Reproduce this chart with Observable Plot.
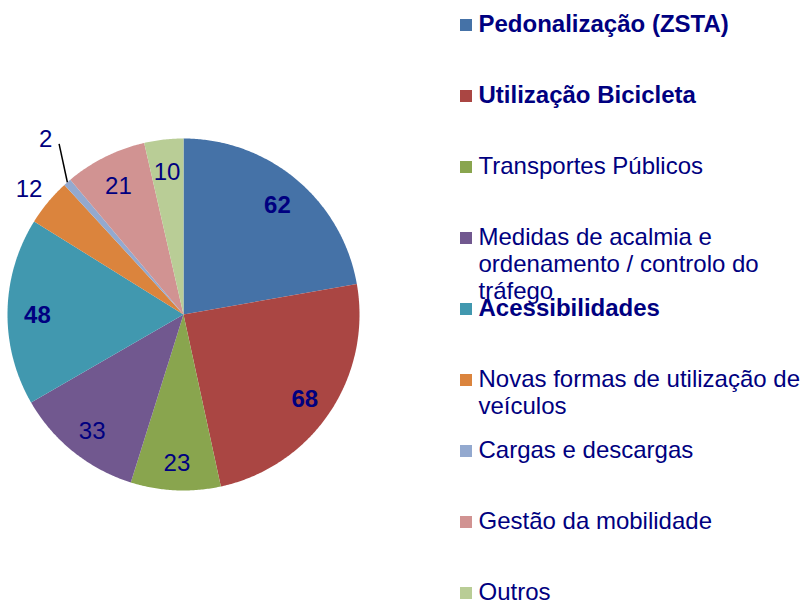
<!DOCTYPE html>
<html>
<head>
<meta charset="utf-8">
<script src="https://cdn.jsdelivr.net/npm/d3@7"></script>
<script src="https://cdn.jsdelivr.net/npm/@observablehq/plot@0.6"></script>
<style>
  html, body { margin: 0; padding: 0; background: #fff; }
  #chart { width: 802px; height: 600px; overflow: hidden; }
</style>
</head>
<body>
<div id="chart"></div>
<script>
// ---- data ----
const categories = [
  "Pedonalização (ZSTA)",
  "Utilização Bicicleta",
  "Transportes Públicos",
  "Medidas de acalmia e ordenamento / controlo do tráfego",
  "Acessibilidades",
  "Novas formas de utilização de veículos",
  "Cargas e descargas",
  "Gestão da mobilidade",
  "Outros"
];
const values = [62, 68, 23, 33, 48, 12, 2, 21, 10];
const colors = ["#4572A7", "#AA4643", "#89A54E", "#71588F", "#4198AF", "#DB843D", "#93A9CF", "#D19392", "#B9CD96"];
const boldFlags = [true, true, false, false, true, false, false, false, false];
const legendLabels = [
  "Pedonalização (ZSTA)",
  "Utilização Bicicleta",
  "Transportes Públicos",
  "Medidas de acalmia e\nordenamento / controlo do\ntráfego",
  "Acessibilidades",
  "Novas formas de utilização de\nveículos",
  "Cargas e descargas",
  "Gestão da mobilidade",
  "Outros"
];
const labelPlacement = ["in", "in", "in", "in", "in", "out", "leader", "in", "in"];

// ---- layout ----
const W = 802, H = 600;
const cx = 183, cy = 314, R = 176;
const navy = "#000080";
const fontSize = 24;

const rows = categories.map((name, i) => ({
  name, value: values[i], color: colors[i], bold: boldFlags[i],
  legend: legendLabels[i], placement: labelPlacement[i], i
}));

const arcs = d3.pie().sort(null).value(d => d.value)(rows);
const pt = (a, r) => [cx + r * Math.sin(a), cy - r * Math.cos(a)];

// slice polygons
const slicePts = [];
for (const a of arcs) {
  const n = Math.max(2, Math.ceil((a.endAngle - a.startAngle) / (Math.PI / 360)));
  slicePts.push({name: a.data.name, x: cx, y: cy});
  for (let k = 0; k <= n; k++) {
    const ang = a.startAngle + (a.endAngle - a.startAngle) * k / n;
    const [x, y] = pt(ang, R);
    slicePts.push({name: a.data.name, x, y});
  }
  slicePts.push({name: a.data.name, x: cx, y: cy});
}

// value labels
const deg = Math.PI / 180;
const labels = arcs.map(a => {
  const mid = (a.startAngle + a.endAngle) / 2;
  let x, y, lx1, ly1, lx2, ly2;
  if (a.data.placement === "in") {
    [x, y] = pt(mid, R * 0.83);
  } else if (a.data.placement === "out") {
    [x, y] = pt(mid, R * 1.14);
  } else {
    [x, y] = pt(mid + 3.6 * deg, R * 1.28);
    [lx1, ly1] = pt(mid, R);
    [lx2, ly2] = pt(mid + 5.2 * deg, R * 1.2);
  }
  return {...a.data, x, y, lx1, ly1, lx2, ly2};
});
const leaders = labels.filter(d => d.placement === "leader");

// legend
const legX = 460, legSq = 12, legTextX = 478, legBase0 = 30, legStep = 71;
const legend = rows.map(d => {
  const b = legBase0 + legStep * d.i;
  return {...d, x1: legX, x2: legX + legSq, y1: b - 11, y2: b - 11 + legSq, tx: legTextX, ty: b - 0.71 * fontSize};
});

const chart = Plot.plot({
  width: W,
  height: H,
  margin: 0,
  x: {type: "identity", axis: null},
  y: {type: "identity", axis: null},
  color: {domain: categories, range: colors},
  style: {fontFamily: "'Liberation Sans', Arial, sans-serif", background: "#fff"},
  marks: [
    Plot.line(slicePts, {x: "x", y: "y", z: "name", fill: "name", stroke: null, curve: "linear"}),
    Plot.link(leaders, {x1: "lx1", y1: "ly1", x2: "lx2", y2: "ly2", stroke: "#000", strokeWidth: 1.5}),
    Plot.text(labels.filter(d => !d.bold), {x: "x", y: "y", dy: 3, text: d => String(d.value), fill: navy, fontSize, textAnchor: "middle", lineAnchor: "middle"}),
    Plot.text(labels.filter(d => d.bold), {x: "x", y: "y", dy: 3, text: d => String(d.value), fill: navy, fontSize, fontWeight: "bold", textAnchor: "middle", lineAnchor: "middle"}),
    Plot.rect(legend, {x1: "x1", x2: "x2", y1: "y1", y2: "y2", fill: "name"}),
    Plot.text(legend.filter(d => !d.bold), {x: "tx", y: "ty", text: "legend", fill: navy, fontSize, textAnchor: "start", lineAnchor: "top", lineHeight: 1.11}),
    Plot.text(legend.filter(d => d.bold), {x: "tx", y: "ty", text: "legend", fill: navy, fontSize, fontWeight: "bold", textAnchor: "start", lineAnchor: "top", lineHeight: 1.11})
  ]
});
document.getElementById("chart").appendChild(chart);
</script>
</body>
</html>
